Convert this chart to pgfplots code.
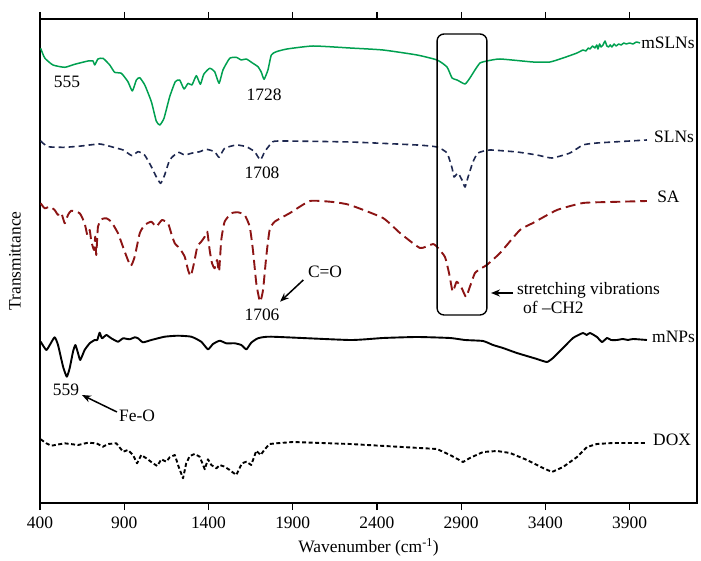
\documentclass[border=0pt]{standalone}
\usepackage{pgfplots}
\pgfplotsset{compat=1.18}
\usepackage{fontspec}
\setmainfont{Liberation Serif}
\usetikzlibrary{arrows.meta}
\definecolor{cgreen}{RGB}{0,160,80}
\definecolor{cnavy}{RGB}{30,40,80}
\definecolor{cred}{RGB}{140,20,20}
\begin{document}
\begin{tikzpicture}
\useasboundingbox (-40bp,-58bp) rectangle (661bp,503bp);
\begin{axis}[
  scale only axis, width=657bp, height=484bp,
  xmin=400, xmax=4300, ymin=0, ymax=484,
  axis line style={line width=1.4bp},
  xtick={400,900,...,3900}, ytick=\empty,
  tick align=outside, major tick length=7bp,
  xtick style={line width=1.2bp, black},
  /pgf/number format/assume math mode=true,
  /pgf/number format/1000 sep={},
  tick label style={font=\fontsize{17.5}{20}\selectfont},
  xticklabel style={yshift=-3bp},
  label style={font=\fontsize{17.5}{20}\selectfont},
  xlabel={Wavenumber (cm\textsuperscript{-1})},
  ylabel={Transmittance},
  xlabel style={at={(axis description cs:0.5,-0.091)}, anchor=center},
  ylabel style={at={(axis description cs:-0.038,0.5)}, anchor=center},
  clip=false,
  every axis plot/.append style={line join=round},
  nodes={font=\fontsize{17.5}{20}\selectfont},
]
% mSLNs
\addplot[cgreen, line width=1.5bp, smooth, tension=0.3] coordinates {
(404,454.7)(428,445)(477,438)(547,435.7)(606,438.7)(685,442)(715,442)(725,438)(744,444)(774,444.7)
(814,438)(843,430.7)(883,429.7)(922,421.3)(948,412)(972,423)(992,425.3)(1022,418)(1061,401.3)(1090,382)
(1111,378)(1136,384.7)(1170,406.3)(1203,421.3)(1229,423)(1255,414)(1279,419.7)(1302,418)(1328,427.3)(1352,418.7)
(1372,428.7)(1407,434.7)(1437,431.3)(1463,419.7)(1486,433)(1526,444.7)(1565,445.7)(1595,443)(1625,444)(1664,439.7)
(1694,436.3)(1714,430.7)(1730,423.7)(1753,433)(1773,448)(1803,451.3)(1866,454)(2021,457)(2240,455)(2436,453)
(2638,448)(2757,443)(2816,436)(2846,425)(2876,423)(2923,419)(2952,425)(2982,433)(3012,440)(3053,442)
(3131,444)(3326,441)(3427,441)(3505,445)(3588,450)(3623,453)(3640,452)(3655,455)(3665,454)(3680,457)
(3694,455)(3705,458)(3712,454)(3722,459)(3730,456)(3742,458)(3754,462)(3765,457)(3775,456)(3785,458)
(3795,456)(3808,459)(3820,457)(3835,459)(3850,458)(3865,460)(3880,459)(3900,460)(3920,459)(3940,461)(3962,460)
};
% SLNs
\addplot[cnavy, line width=1.6bp, dash pattern=on 6bp off 4bp, smooth, tension=0.3] coordinates {
(404,362)(447,356.3)(547,355.7)(645,357)(754,359)(823,356.3)(893,353)(946,347.3)(982,351.3)(1021,348)
(1061,336.3)(1090,326.3)(1116,319.7)(1140,328)(1170,343)(1219,350.7)(1259,348)(1298,349.7)(1348,351.3)(1387,353.7)
(1437,351.3)(1463,345.7)(1496,354.7)(1565,358)(1625,356.3)(1674,351.3)(1708,343)(1734,351.3)(1773,359.7)(1813,362)
(2240,361)(2638,358)(2757,356)(2816,350)(2846,335)(2858,326)(2881,330)(2905,323)(2923,316)(2941,326)
(2970,341)(3000,350)(3071,353)(3231,351)(3350,348)(3439,345)(3546,350)(3623,358)(3706,360)(4003,363)
};
% SA
\addplot[cred, line width=1.9bp, dash pattern=on 10bp off 5bp, smooth, tension=0.3] coordinates {
(404,299.7)(428,294.7)(458,296.3)(487,293)(507,288)(526,290.3)(547,279.7)(566,288)(586,292.3)(636,289.7)
(665,279.7)(681,268)(695,273)(705,261.3)(721,253)(728,266.3)(734,248)(744,276.3)(764,283.7)(794,284.7)
(823,281.3)(863,269.7)(903,251.3)(938,237)(962,246.3)(992,269.7)(1021,278)(1061,281.3)(1090,276.3)(1124,283)
(1160,279.7)(1179,269.7)(1200,259.7)(1229,254.7)(1259,246.3)(1279,233)(1295,227)(1314,239.7)(1334,256.3)(1357,261.3)
(1378,266.3)(1393,271.3)(1407,253)(1421,239.7)(1437,234.7)(1451,243)(1463,231.3)(1476,263)(1496,281.3)(1536,289.7)
(1575,290.7)(1615,288)(1645,276.3)(1664,253)(1684,219.7)(1706,201.3)(1724,213)(1743,246.3)(1763,273)(1793,281.3)
(1884,290)(2003,302)(2139,301)(2240,298)(2436,285)(2537,270)(2656,255)(2733,259)(2763,255)(2804,246)
(2828,230)(2850,211.3)(2873,221.3)(2903,215)(2929,206)(2952,216.3)(2982,230)(3022,235)(3052,238)(3131,250)
(3249,273)(3326,280)(3469,293)(3623,300)(3784,301)(4003,302)
};
% mNPs
\addplot[black, line width=1.9bp, smooth, tension=0.3] coordinates {
(404,161.3)(437,153)(458,158)(487,165.7)(507,158)(537,136.3)(559,126.3)(576,134.7)(596,151.3)(610,158)
(626,149.7)(639,143)(665,153)(695,159.7)(725,163)(740,163)(754,170.3)(768,164.7)(794,168)(823,164.7)
(863,161.3)(893,164.7)(932,163.7)(962,165.7)(982,164.7)(1011,160.7)(1061,163)(1140,166.3)(1219,167.3)(1298,166.3)
(1357,161.3)(1397,153.7)(1427,159)(1467,162.3)(1506,159.7)(1556,159.7)(1595,158)(1625,153.7)(1654,160.3)(1694,164.7)
(1773,166.3)(2240,163)(2436,165)(2638,166)(2834,165)(2923,163)(3030,162)(3089,158)(3148,155)(3231,150)
(3350,144)(3409,141)(3445,145)(3505,155)(3564,165)(3623,170)(3645,168)(3665,170)(3706,166)(3736,161)
(3766,165)(3790,163)(3825,163)(3860,164)(3890,163)(3920,164)(4003,163)
};
% DOX
\addplot[black, line width=1.9bp, dash pattern=on 4bp off 2.5bp] coordinates {
(404,63.7)(437,59.7)(467,57.3)(547,59.7)(626,58)(685,60.3)(734,59.7)(774,56.3)(804,59)(853,59.7)
(893,51.3)(922,53)(952,48)(976,39.7)(1001,48)(1031,44.7)(1071,39.7)(1096,37)(1120,43.7)(1150,41.3)
(1170,45.7)(1200,48)(1223,36.3)(1249,24.7)(1268,39.7)(1289,47)(1318,49)(1348,46.3)(1378,33.7)(1397,43.7)
(1417,38)(1447,34.7)(1467,38)(1496,36.3)(1526,33)(1565,28)(1599,39.7)(1625,41.3)(1654,38)(1684,52.3)
(1710,48)(1734,53.7)(1763,59)(1803,59.7)(1902,61)(2240,59)(2757,54)(2834,48)(2911,41)(2952,45)
(3030,51)(3113,52)(3190,50)(3291,43)(3386,35)(3439,31)(3505,36)(3588,46)(3647,56)(3706,59)
(3801,60)(4003,60)
};
% box
\draw[line width=1.4bp, rounded corners=7bp] (axis cs:2757,188) rectangle (axis cs:3053,469);
% arrows
\draw[line width=1.5bp, -{Stealth[length=9bp,width=7bp]}] (axis cs:1963,223) -- (axis cs:1825,201.3);
\draw[line width=1.5bp, -{Stealth[length=9bp,width=7bp]}] (axis cs:857,91) -- (axis cs:649,108);
\draw[line width=1.5bp, -{Stealth[length=9bp,width=7bp]}] (axis cs:3208,210) -- (axis cs:3077,210);
% annotations
\node at (axis cs:560,421) {555};
\node at (axis cs:1730,408) {1728};
\node at (axis cs:1718,330) {1708};
\node at (axis cs:2092,231) {C=O};
\node at (axis cs:1718,188) {1706};
\node at (axis cs:554,113) {559};
\node at (axis cs:976,87) {Fe-O};
\node[anchor=west, inner sep=0pt] at (axis cs:3231,213) {stretching vibrations};
\node[anchor=west, inner sep=0pt] at (axis cs:3267,196) {of –CH2};
% series labels
\node[anchor=west, inner sep=0pt] at (axis cs:3968,460) {mSLNs};
\node[anchor=west, inner sep=0pt] at (axis cs:4045,366) {SLNs};
\node[anchor=west, inner sep=0pt] at (axis cs:4063,306) {SA};
\node[anchor=west, inner sep=0pt] at (axis cs:4033,166) {mNPs};
\node[anchor=west, inner sep=0pt] at (axis cs:4039,63) {DOX};
\end{axis}
\end{tikzpicture}
\end{document}
